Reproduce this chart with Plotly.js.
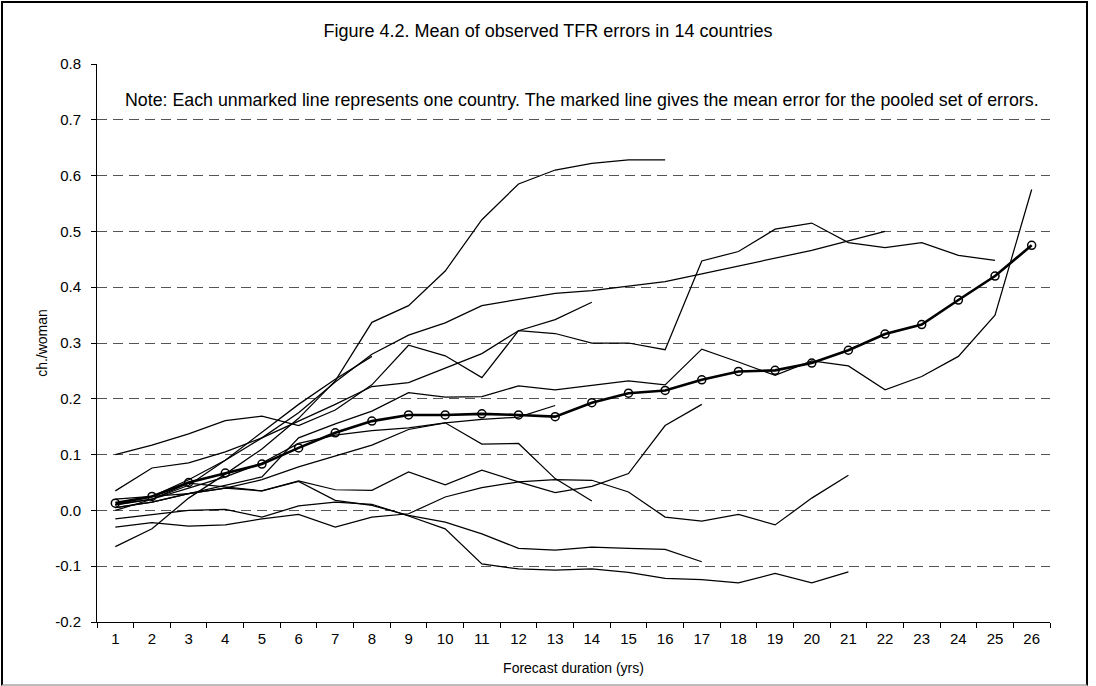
<!DOCTYPE html>
<html>
<head>
<meta charset="utf-8">
<script src="https://cdn.plot.ly/plotly-3.0.1.min.js"></script>
<style>
  html, body { margin: 0; padding: 0; background: #fff; }
  #wrap { position: relative; width: 1096px; height: 686px; }
  #chart { width: 1096px; height: 686px; }
  #frame { position: absolute; left: 1px; top: 1px; width: 1083px; height: 681px;
           border-left: 2px solid #000; border-top: 2px solid #000; border-right: 2px solid #000;
           border-bottom: 2px solid #bbb; pointer-events: none; }
</style>
</head>
<body>
<div id="wrap"><div id="chart"></div><div id="frame"></div></div>
<script>
const durations = ['1','2','3','4','5','6','7','8','9','10','11','12','13','14','15','16','17','18','19','20','21','22','23','24','25','26'];

const yTickValues = [-0.2, -0.1, 0.0, 0.1, 0.2, 0.3, 0.4, 0.5, 0.6, 0.7, 0.8];
const yTickLabels = ['-0.2', '-0.1', '0.0', '0.1', '0.2', '0.3', '0.4', '0.5', '0.6', '0.7', '0.8'];

const meanError = [0.013, 0.025, 0.05, 0.067, 0.083, 0.112, 0.139, 0.16, 0.171, 0.171, 0.173, 0.171, 0.168, 0.193, 0.21, 0.215, 0.234, 0.249, 0.251, 0.264, 0.287, 0.316, 0.333, 0.377, 0.42, 0.475];

const country1 = [-0.065, -0.033, 0.022, 0.065, 0.11, 0.165, 0.232, 0.337, 0.367, 0.429, 0.521, 0.585, 0.61, 0.622, 0.628, 0.628];
const country2 = [0.035, 0.076, 0.085, 0.105, 0.13, 0.175, 0.23, 0.28, 0.314, 0.336, 0.367, 0.378, 0.389, 0.394, 0.402, 0.41, 0.424, 0.438, 0.452, 0.466, 0.483, 0.5];
const country3 = [0.1, 0.117, 0.137, 0.161, 0.169, 0.152, 0.18, 0.225, 0.296, 0.277, 0.238, 0.322, 0.317, 0.3, 0.3, 0.288, 0.447, 0.464, 0.504, 0.515, 0.48, 0.471, 0.48, 0.457, 0.448];
const country4 = [0.01, 0.02, 0.045, 0.09, 0.13, 0.16, 0.19, 0.222, 0.229, 0.255, 0.281, 0.322, 0.342, 0.373];
const country5 = [0.01, 0.025, 0.055, 0.09, 0.14, 0.19, 0.235, 0.276];
const country6 = [0.005, 0.015, 0.03, 0.045, 0.06, 0.13, 0.155, 0.178, 0.211, 0.203, 0.204, 0.223, 0.216, 0.224, 0.232, 0.225, 0.289, 0.266, 0.242, 0.268, 0.259, 0.216, 0.24, 0.276, 0.35, 0.575];
const country7 = [0.0, 0.02, 0.049, 0.042, 0.035, 0.053, 0.037, 0.036, 0.069, 0.046, 0.072, 0.051, 0.032, 0.043, 0.066, 0.152, 0.19];
const country8 = [-0.03, -0.022, -0.028, -0.026, -0.015, -0.007, -0.03, -0.012, -0.006, 0.024, 0.041, 0.051, 0.055, 0.054, 0.033, -0.012, -0.019, -0.007, -0.026, 0.022, 0.063];
const country9 = [-0.015, -0.008, 0.0, 0.002, -0.012, 0.008, 0.015, 0.011, -0.01, -0.033, -0.096, -0.105, -0.107, -0.105, -0.111, -0.122, -0.124, -0.13, -0.113, -0.13, -0.11];
const country10 = [0.005, 0.015, 0.03, 0.04, 0.035, 0.052, 0.018, 0.009, -0.009, -0.021, -0.042, -0.068, -0.071, -0.066, -0.068, -0.07, -0.092];
const country11 = [0.02, 0.025, 0.03, 0.04, 0.055, 0.078, 0.097, 0.117, 0.145, 0.157, 0.119, 0.12, 0.057, 0.017];
const country12 = [0.01, 0.02, 0.04, 0.06, 0.085, 0.12, 0.135, 0.143, 0.148, 0.157, 0.163, 0.167, 0.188];

const countrySeries = [country1, country2, country3, country4, country5, country6, country7, country8, country9, country10, country11, country12];

const titleText = 'Figure 4.2. Mean of observed TFR errors in 14 countries';
const noteText = 'Note: Each unmarked line represents one country. The marked line gives the mean error for the pooled set of errors.';
const xTitle = 'Forecast duration (yrs)';
const yTitle = 'ch./woman';

const FONT = 'Liberation Sans, Arial, sans-serif';

const traces = countrySeries.map((vals, i) => ({
  type: 'scatter', mode: 'lines', name: 'Country ' + (i + 1),
  x: durations.slice(0, vals.length), y: vals,
  line: { color: '#000', width: 1.25 }
}));
traces.push({
  type: 'scatter', mode: 'lines+markers', name: 'Mean',
  x: durations.slice(0, meanError.length), y: meanError,
  line: { color: '#000', width: 2.6 },
  marker: { symbol: 'circle-open', size: 8, color: '#000', line: { color: '#000', width: 1.5 } }
});

const layout = {
  width: 1096, height: 686,
  margin: { l: 97, r: 46, t: 64, b: 64 },
  paper_bgcolor: '#fff', plot_bgcolor: '#fff',
  showlegend: false,
  font: { family: FONT, color: '#000', size: 15 },
  title: { text: titleText, font: { family: FONT, size: 18, color: '#000' },
           x: 0.5, xref: 'container', y: 1 - 31 / 686, yref: 'container', yanchor: 'middle' },
  xaxis: {
    type: 'category', tickson: 'boundaries', range: [-0.5, 25.5],
    ticks: 'outside', ticklen: 5, tickcolor: '#000',
    showline: true, linecolor: '#000', linewidth: 1, showgrid: false, zeroline: false,
    tickfont: { family: FONT, size: 15 }, ticklabelstandoff: 3,
    title: { text: xTitle, font: { family: FONT, size: 14 }, standoff: 17 },
    automargin: false
  },
  yaxis: {
    range: [-0.2, 0.8], tickmode: 'array', tickvals: yTickValues, ticktext: yTickLabels,
    ticks: 'outside', ticklen: 5, tickcolor: '#000',
    showline: true, linecolor: '#000', linewidth: 1,
    showgrid: true, gridcolor: '#555', gridwidth: 1, griddash: '10px,6px',
    zeroline: false,
    tickfont: { family: FONT, size: 15 }, ticklabelstandoff: 7,
    title: { text: yTitle, font: { family: FONT, size: 14 }, standoff: 4 },
    automargin: false
  },
  annotations: [{
    text: noteText, xref: 'paper', yref: 'y', x: 0.509, y: 0.735, xanchor: 'center', yanchor: 'middle',
    showarrow: false, font: { family: FONT, size: 17.8, color: '#000' }
  }]
};

Plotly.newPlot('chart', traces, layout, { displayModeBar: false, staticPlot: true });
</script>
</body>
</html>
